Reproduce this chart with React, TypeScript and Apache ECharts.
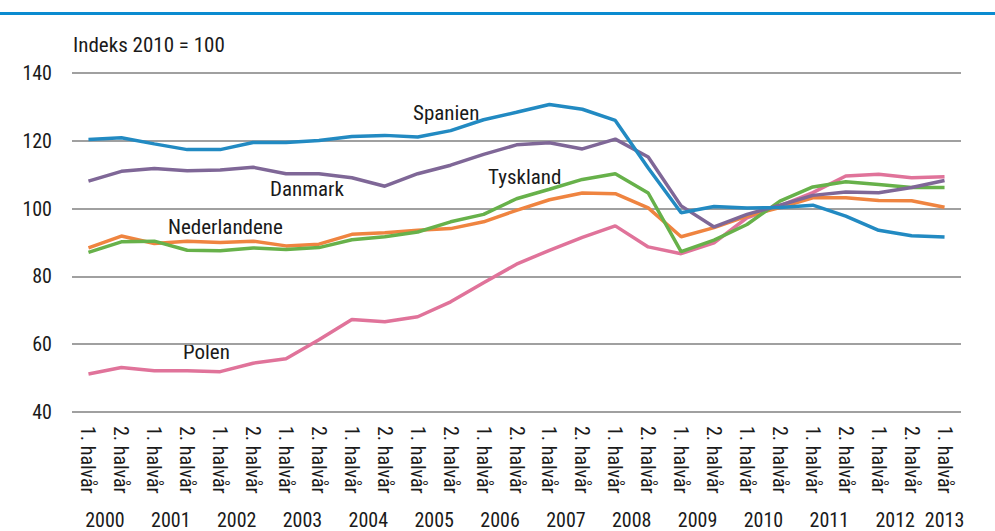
import React, { useEffect, useRef } from "react";
import * as echarts from "echarts";

const halfLabels = [
  "1. halvår","2. halvår","1. halvår","2. halvår","1. halvår","2. halvår","1. halvår","2. halvår",
  "1. halvår","2. halvår","1. halvår","2. halvår","1. halvår","2. halvår","1. halvår","2. halvår",
  "1. halvår","2. halvår","1. halvår","2. halvår","1. halvår","2. halvår","1. halvår","2. halvår",
  "1. halvår","2. halvår","1. halvår",
];
const years = ["2000","2001","2002","2003","2004","2005","2006","2007","2008","2009","2010","2011","2012","2013"];

const spanien = [120.4,120.9,119.1,117.4,117.4,119.5,119.5,120.1,121.3,121.6,121.1,123.0,126.2,128.4,130.7,129.3,126.0,112.0,98.8,100.6,100.2,100.3,101.0,97.8,93.6,92.0,91.6];
const danmark = [108.1,111.0,111.8,111.2,111.4,112.2,110.3,110.3,109.1,106.6,110.3,112.8,116.0,118.8,119.4,117.6,120.5,115.2,100.8,94.6,98.3,101.0,103.9,104.9,104.7,106.2,108.3];
const tyskland = [87.1,90.2,90.4,87.7,87.6,88.4,87.9,88.5,90.8,91.7,93.1,96.1,98.3,102.9,105.7,108.6,110.3,104.6,87.3,90.7,95.3,102.2,106.4,107.9,107.1,106.2,106.2];
const nederlandene = [88.4,91.9,89.7,90.4,90.0,90.4,89.0,89.5,92.4,92.9,93.6,94.1,96.1,99.5,102.6,104.6,104.4,100.2,91.7,94.4,97.8,100.3,103.2,103.2,102.4,102.3,100.4];
const polen = [51.2,53.1,52.2,52.2,51.9,54.4,55.7,61.3,67.3,66.6,68.1,72.5,78.1,83.6,87.7,91.5,94.9,88.7,86.7,89.9,97.3,100.8,104.7,109.6,110.1,109.1,109.4];

const seriesNames = ["Spanien","Danmark","Tyskland","Nederlandene","Polen"];
const seriesColors = ["#228ac2","#7f6797","#67b14a","#ef8440","#e0739a"];

const FONT = "'Roboto Condensed', 'Liberation Sans', sans-serif";
const TXT = "#1a1a1a";

export default function App() {
  const ref = useRef<HTMLDivElement>(null);
  useEffect(() => {
    if (!ref.current) return;
    const chart = echarts.init(ref.current, undefined, { renderer: "svg" });
    // year axis: 55 slots spanning the plot edge-to-edge, in quarter-year steps
    const yearSlots: string[] = new Array(55).fill("");
    years.forEach((y, k) => {
      if (k < years.length - 1) yearSlots[4 * k + 2] = y;
      else yearSlots[53] = y;
    });
    const data = [spanien, danmark, tyskland, nederlandene, polen];
    const labelText = (text: string, x: number, y: number) => ({
      type: "text",
      x,
      y,
      style: { text, fill: TXT, font: `21px ${FONT}`, textAlign: "left", textVerticalAlign: "middle" },
    });
    chart.setOption({
      animation: false,
      backgroundColor: "#ffffff",
      grid: { left: 72, right: 34, top: 73, bottom: 119, containLabel: false },
      xAxis: [
        {
          type: "category",
          data: halfLabels,
          boundaryGap: true,
          axisLine: { show: false },
          axisTick: { show: false },
          axisLabel: {
            interval: 0,
            rotate: -90,
            margin: 14,
            color: TXT,
            fontFamily: FONT,
            fontSize: 20,
            overflow: "none",
            hideOverlap: false,
          },
          splitLine: { show: false },
        },
        {
          type: "category",
          data: yearSlots,
          boundaryGap: false,
          position: "bottom",
          offset: 90,
          axisLine: { show: false },
          axisTick: { show: false },
          axisLabel: { interval: 0, margin: 8, color: TXT, fontFamily: FONT, fontSize: 20, overflow: "none" },
          splitLine: { show: false },
        },
      ],
      yAxis: {
        type: "value",
        min: 40,
        max: 140,
        interval: 20,
        axisLine: { show: false },
        axisTick: { show: false },
        axisLabel: { margin: 20, color: TXT, fontFamily: FONT, fontSize: 20 },
        splitLine: { lineStyle: { color: "#a0a0a0", width: 2 } },
      },
      series: data.map((d, i) => ({
        name: seriesNames[i],
        type: "line",
        xAxisIndex: 0,
        data: d,
        symbol: "none",
        lineStyle: { color: seriesColors[i], width: 3.5 },
        z: 10 - i,
      })),
      graphic: [
        { type: "rect", shape: { x: 0, y: 12, width: 995, height: 3 }, style: { fill: "#0b8bd0" } },
        labelText("Indeks 2010 = 100", 73, 45),
        labelText("Spanien", 413, 113),
        labelText("Danmark", 270, 189),
        labelText("Tyskland", 488, 177),
        labelText("Nederlandene", 168, 227),
        labelText("Polen", 183, 352),
      ],
    });
    return () => chart.dispose();
  }, []);
  return <div ref={ref} style={{ width: 995, height: 531, position: "absolute", left: 0, top: 0 }} />;
}
